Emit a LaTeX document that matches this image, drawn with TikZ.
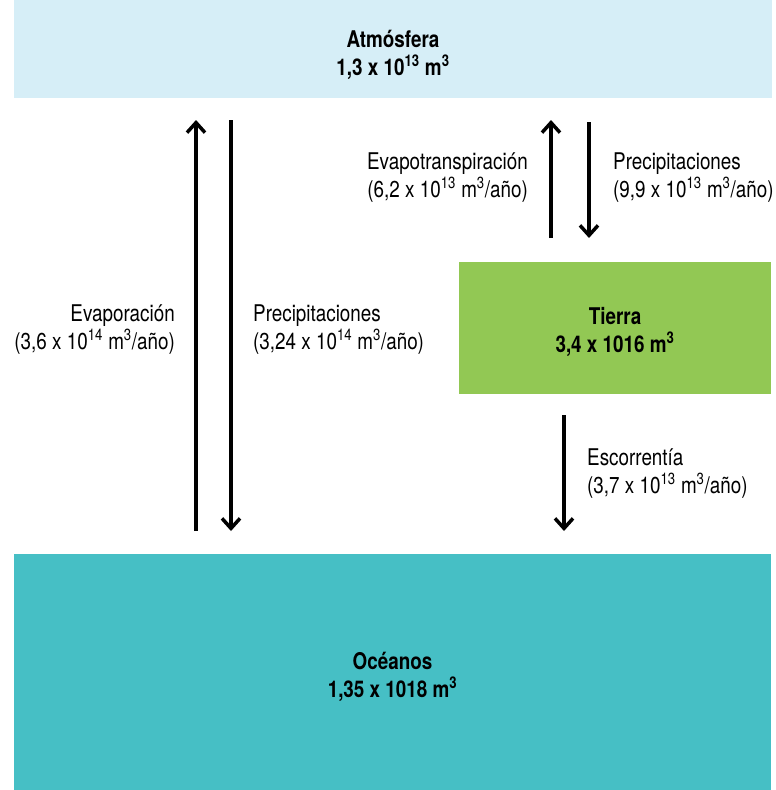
\documentclass[tikz,border=0pt]{standalone}
\usepackage{fontspec}
\setmainfont{TeX Gyre Heros}[FakeStretch=0.82]
\definecolor{atmblue}{RGB}{214,238,247}
\definecolor{landgreen}{RGB}{146,200,84}
\definecolor{oceanteal}{RGB}{70,191,197}
\usetikzlibrary{arrows.meta,positioning}

\tikzset{
  flux/.style={line width=3.5pt,-{Straight Barb[length=10pt,width=18pt,line width=3.5pt]}},
  store/.style={inner sep=0,outer sep=0},
  storetext/.style={inner sep=0,align=center,font=\bfseries\fontsize{23}{28}\selectfont},
  fluxlabel/.style={inner sep=0,font=\fontsize{23}{28}\selectfont}
}

\begin{document}
\begin{tikzpicture}[x=1pt,y=-1pt]
\useasboundingbox (0,0) rectangle (776,790);
% reservoirs
\node[store,fill=atmblue,minimum width=758pt,minimum height=98pt] (atm) at (393,49) {};
\node[store,fill=landgreen,minimum width=312pt,minimum height=132pt] (land) at (615,328) {};
\node[store,fill=oceanteal,minimum width=757pt,minimum height=236pt] (ocean) at (392.5,672) {};
\node[storetext] (atmtxt) at ([yshift=-6pt]atm.center) {Atmósfera\\1,3 x 10\textsuperscript{13} m\textsuperscript{3}};
\node[storetext] (landtxt) at ([yshift=-4pt]land.center) {Tierra\\3,4 x 1016 m\textsuperscript{3}};
\node[storetext] (oceantxt) at ([yshift=-5pt]ocean.center) {Océanos\\1,35 x 1018 m\textsuperscript{3}};
% arrow ends
\coordinate (evapS) at (196,531);
\coordinate (evapE) at (196,120);
\coordinate (rainS) at (231,120);
\coordinate (rainE) at (231,531);
\coordinate (etS) at (551,238);
\coordinate (etE) at (551,120);
\coordinate (lrainS) at (589,122);
\coordinate (lrainE) at (589,238);
\coordinate (runS) at (564,415);
\coordinate (runE) at (564,531);
\draw[flux] (evapS) -- (evapE);
\draw[flux] (rainS) -- (rainE);
\draw[flux] (etS) -- (etE);
\draw[flux] (lrainS) -- (lrainE);
\draw[flux] (runS) -- (runE);
% labels
\node[fluxlabel,align=right,anchor=east] (evaplbl) at (175,330) {Evaporación\\(3,6 x 10\textsuperscript{14} m\textsuperscript{3}/año)};
\node[fluxlabel,align=left,anchor=west] (rainlbl) at (253,330) {Precipitaciones\\(3,24 x 10\textsuperscript{14} m\textsuperscript{3}/año)};
\node[fluxlabel,align=right,anchor=east] (etlbl) at (528,178) {Evapotranspiración\\(6,2 x 10\textsuperscript{13} m\textsuperscript{3}/año)};
\node[fluxlabel,align=left,anchor=west] (lrainlbl) at (613,178) {Precipitaciones\\(9,9 x 10\textsuperscript{13} m\textsuperscript{3}/año)};
\node[fluxlabel,align=left,anchor=west] (runlbl) at (587,474) {Escorrentía\\(3,7 x 10\textsuperscript{13} m\textsuperscript{3}/año)};
\end{tikzpicture}
\end{document}
